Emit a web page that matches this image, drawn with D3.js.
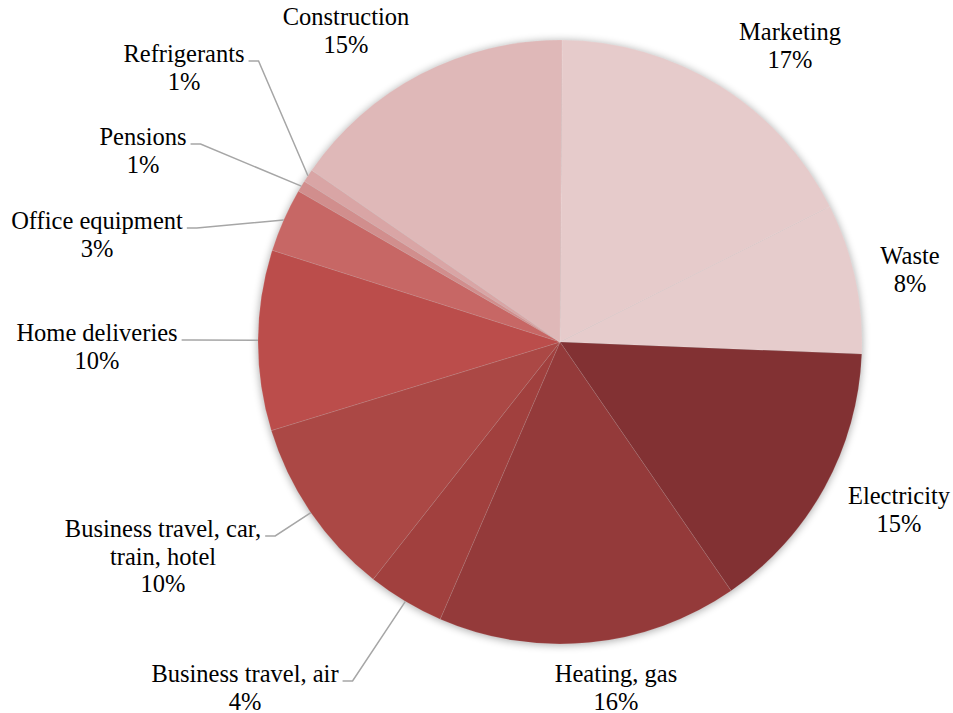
<!DOCTYPE html>
<html>
<head>
<meta charset="utf-8">
<script src="https://cdn.jsdelivr.net/npm/d3@7/dist/d3.min.js"></script>
<style>
  html, body { margin: 0; padding: 0; background: #ffffff; }
  svg { display: block; }
</style>
</head>
<body>
<svg id="chart" width="953" height="713"></svg>
<script>
// Emission sources, clockwise from 12 o'clock
const categories = [
  "Marketing", "Waste", "Electricity", "Heating, gas", "Business travel, air",
  "Business travel, car, train, hotel", "Home deliveries", "Office equipment",
  "Pensions", "Refrigerants", "Construction"
];
// Share of total footprint (%)
const values = [17.4, 8.0, 14.7, 16.0, 4.1, 9.6, 9.6, 3.4, 0.6, 0.7, 15.4];
// Label text lines per category
const labelLines = [
  ["Marketing"], ["Waste"], ["Electricity"], ["Heating, gas"], ["Business travel, air"],
  ["Business travel, car,", "train, hotel"], ["Home deliveries"], ["Office equipment"],
  ["Pensions"], ["Refrigerants"], ["Construction"]
];
const sliceColors = [
  "#e6cbcb", "#e6cccc", "#823133", "#943a3a", "#a1403e",
  "#ab4845", "#bb4d4b", "#c76765", "#d18e8d", "#d9a5a5", "#dfb8b8"
];

// Layout
const cx = 560, cy = 342, radius = 302;
const lineHeight = 27.5;
const fontFamily = "'Times New Roman', 'Liberation Serif', Tinos, 'DejaVu Serif', serif";
// label block: centre x, first baseline y, with leader line?
const labelLayout = [
  { x: 790, y: 40,  leader: false },
  { x: 910, y: 264, leader: false },
  { x: 899, y: 504, leader: false },
  { x: 616, y: 682, leader: false },
  { x: 245, y: 682, leader: true },
  { x: 163, y: 537, leader: true },
  { x: 97,  y: 341, leader: true },
  { x: 97,  y: 229, leader: true },
  { x: 143, y: 145, leader: true },
  { x: 184, y: 62,  leader: true },
  { x: 346, y: 25,  leader: false }
];

const svg = d3.select("#chart");
const data = categories.map((c, i) => ({ name: c, value: values[i], i }));
const total = d3.sum(values);

const startDeg = 0.4;
const pie = d3.pie()
  .value(d => d.value)
  .sort(null)
  .startAngle(startDeg * Math.PI / 180)
  .endAngle((360 + startDeg) * Math.PI / 180);
const arcs = pie(data);
const arc = d3.arc().innerRadius(0).outerRadius(radius);

// soft shadow around the pie
const defs = svg.append("defs");
const f = defs.append("filter").attr("id", "glow")
  .attr("x", "-20%").attr("y", "-20%").attr("width", "140%").attr("height", "140%");
f.append("feGaussianBlur").attr("stdDeviation", 4);

const g = svg.append("g").attr("transform", `translate(${cx},${cy})`);
g.append("circle")
  .attr("r", radius)
  .attr("cy", 1)
  .attr("fill", "#000")
  .attr("opacity", 0.35)
  .attr("filter", "url(#glow)");

g.selectAll("path.slice")
  .data(arcs)
  .join("path")
  .attr("class", "slice")
  .attr("d", arc)
  .attr("fill", d => sliceColors[d.data.i])
  .attr("stroke", "rgba(255,255,255,0.15)")
  .attr("stroke-width", 0.75);

// labels
const labels = svg.append("g");
arcs.forEach(a => {
  const i = a.data.i;
  const L = labelLayout[i];
  const pct = Math.round(a.data.value / total * 100) + "%";
  const lines = labelLines[i].concat([pct]);
  const t = labels.append("text")
    .attr("text-anchor", "middle")
    .attr("font-family", fontFamily)
    .attr("font-size", 24.5)
    .attr("fill", "#000");
  lines.forEach((s, k) => {
    t.append("tspan").attr("x", L.x).attr("y", L.y + k * lineHeight).text(s);
  });
  if (L.leader) {
    const first = t.select("tspan").node();
    const w = first.getComputedTextLength();
    const x0 = L.x + w / 2 + 4;
    const y0 = L.y - 1;
    const mid = (a.startAngle + a.endAngle) / 2;
    const ex = cx + radius * Math.sin(mid);
    const ey = cy - radius * Math.cos(mid);
    labels.append("polyline")
      .attr("points", `${x0},${y0} ${x0 + 10},${y0} ${ex},${ey}`)
      .attr("fill", "none")
      .attr("stroke", "#a6a6a6")
      .attr("stroke-width", 1.5);
  }
});
</script>
</body>
</html>
